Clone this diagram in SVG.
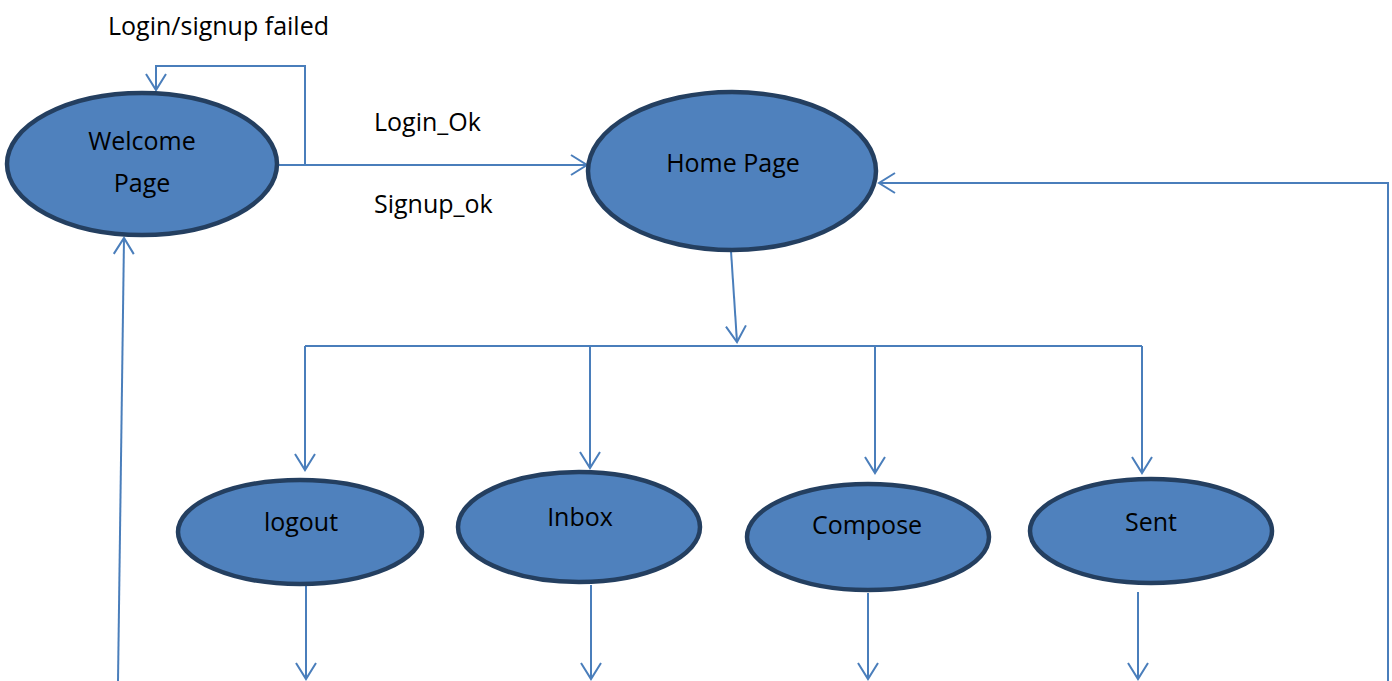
<svg xmlns="http://www.w3.org/2000/svg" width="1392" height="681" viewBox="0 0 1392 681">
  <style>
    .node { fill: #4f81bd; stroke: #243f60; stroke-width: 4.5; }
    .lbl { font-family: "Open Sans", "Liberation Sans", sans-serif; font-size: 25px; fill: #000; }
    .edge { fill: none; stroke: #4a7ebb; stroke-width: 2; }
  </style>
  <defs>
    <marker id="arrow" viewBox="0 0 20 24" refX="18" refY="12" markerWidth="20" markerHeight="24" markerUnits="userSpaceOnUse" orient="auto">
      <path d="M2,2 L18,12 L2,22" fill="none" stroke="#4a7ebb" stroke-width="2"/>
    </marker>
  </defs>

  <g id="connectors">
    <!-- login / signup failed self loop -->
    <polyline class="edge" points="305,165 305,66 156,66 156,90" marker-end="url(#arrow)"/>
    <!-- welcome to home -->
    <line class="edge" x1="279" y1="165" x2="587" y2="165" marker-end="url(#arrow)"/>
    <!-- home down to bus -->
    <line class="edge" x1="731" y1="251" x2="737" y2="342" marker-end="url(#arrow)"/>
    <!-- bus -->
    <line class="edge" x1="305" y1="346" x2="1142" y2="346"/>
    <line class="edge" x1="305" y1="346" x2="305" y2="470" marker-end="url(#arrow)"/>
    <line class="edge" x1="590" y1="346" x2="590" y2="468" marker-end="url(#arrow)"/>
    <line class="edge" x1="875" y1="346" x2="875" y2="473" marker-end="url(#arrow)"/>
    <line class="edge" x1="1142" y1="346" x2="1142" y2="473" marker-end="url(#arrow)"/>
    <!-- outgoing from bottom nodes -->
    <line class="edge" x1="306" y1="586" x2="306" y2="679" marker-end="url(#arrow)"/>
    <line class="edge" x1="591" y1="585" x2="591" y2="679" marker-end="url(#arrow)"/>
    <line class="edge" x1="868" y1="593" x2="868" y2="679" marker-end="url(#arrow)"/>
    <line class="edge" x1="1138" y1="592" x2="1138" y2="679" marker-end="url(#arrow)"/>
    <!-- return to home -->
    <polyline class="edge" points="1388,681 1388,183 879,183" marker-end="url(#arrow)"/>
    <!-- return to welcome -->
    <line class="edge" x1="118" y1="681" x2="124" y2="238" marker-end="url(#arrow)"/>
  </g>

  <text class="lbl" x="108" y="35">Login/signup failed</text>
  <text class="lbl" x="374" y="131">Login_Ok</text>
  <text class="lbl" x="374" y="213">Signup_ok</text>

  <g id="welcome">
    <ellipse class="node" cx="142" cy="164" rx="135" ry="71"/>
    <text class="lbl" x="142" y="150" text-anchor="middle">Welcome</text>
    <text class="lbl" x="142" y="192" text-anchor="middle">Page</text>
  </g>
  <g id="home">
    <ellipse class="node" cx="732" cy="171" rx="144" ry="79"/>
    <text class="lbl" x="733" y="172" text-anchor="middle">Home Page</text>
  </g>
  <g id="logout">
    <ellipse class="node" cx="300" cy="532" rx="122" ry="52"/>
    <text class="lbl" x="301" y="531" text-anchor="middle">logout</text>
  </g>
  <g id="inbox">
    <ellipse class="node" cx="579" cy="527" rx="121" ry="55"/>
    <text class="lbl" x="580" y="526" text-anchor="middle">Inbox</text>
  </g>
  <g id="compose">
    <ellipse class="node" cx="868" cy="537" rx="121" ry="53"/>
    <text class="lbl" x="867" y="534" text-anchor="middle">Compose</text>
  </g>
  <g id="sent">
    <ellipse class="node" cx="1151" cy="531" rx="121" ry="52"/>
    <text class="lbl" x="1151" y="531" text-anchor="middle">Sent</text>
  </g>
</svg>
